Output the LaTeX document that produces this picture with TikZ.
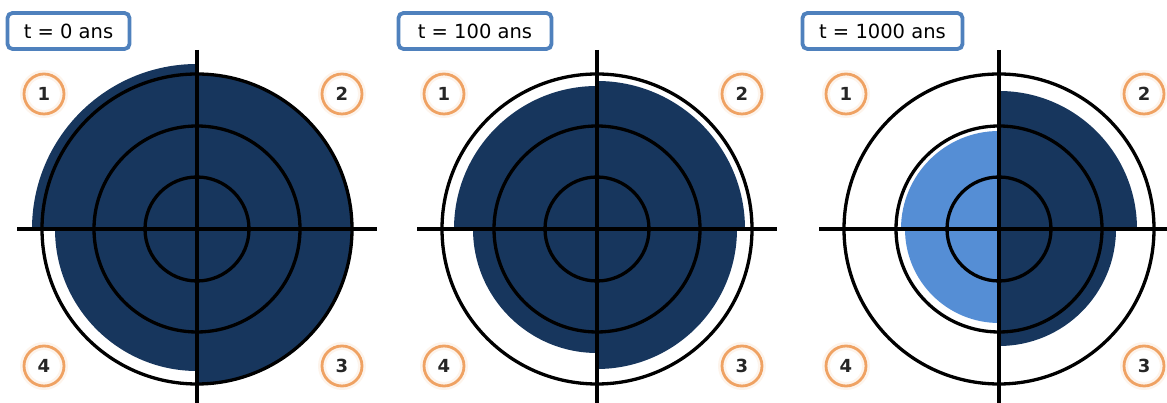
\documentclass[tikz,border=0pt]{standalone}
\usepackage{fontspec}
\setmainfont{DejaVu Sans}
\definecolor{navy}{HTML}{17365D}
\definecolor{lightblue}{HTML}{558ED5}
\definecolor{boxblue}{HTML}{4F81BD}
\definecolor{ringorange}{HTML}{EFA263}
\tikzset{
  ring/.style={draw=black,line width=3.3pt},
  cross/.style={draw=black,line width=3.3pt},
  timebox/.style={draw=boxblue,line width=3.8pt,rounded corners=5pt,fill=white,
    minimum height=36pt,inner sep=0pt,font=\fontsize{19.5}{22}\selectfont},
  numcirc/.style={circle,draw=ringorange,line width=2.8pt,minimum size=40pt,inner sep=0pt,
    font=\bfseries\fontsize{18}{20}\selectfont,text=black!85},
  halo/.style={circle,draw=ringorange!12,line width=8pt,minimum size=40pt,inner sep=0pt}
}
\newcommand\drawpanel[8]{%
  \coordinate (#2c) at (#1,174);
  \fill[#7] (#2c) -- ++(90:#3) arc[start angle=90,end angle=180,radius=#3] -- cycle;
  \fill[navy] (#2c) -- ++(0:#4) arc[start angle=0,end angle=90,radius=#4] -- cycle;
  \fill[navy] (#2c) -- ++(270:#5) arc[start angle=270,end angle=360,radius=#5] -- cycle;
  \fill[#8] (#2c) -- ++(180:#6) arc[start angle=180,end angle=270,radius=#6] -- cycle;
  \draw[ring] (#2c) circle[radius=52];
  \draw[ring] (#2c) circle[radius=103];
  \draw[ring] (#2c) circle[radius=155];
  \coordinate (#2t) at ([yshift=179pt]#2c);
  \coordinate (#2b) at ([yshift=-180pt]#2c);
  \coordinate (#2l) at ([xshift=-180pt]#2c);
  \coordinate (#2r) at ([xshift=180pt]#2c);
  \draw[cross] (#2t) -- (#2b);
  \draw[cross] (#2l) -- (#2r);
  \foreach \n/\dx/\dy in {1/-153/135,2/145/135,3/145/-137,4/-153/-137}{
    \node[halo] at ([shift={(\dx pt,\dy pt)}]#2c) {};
    \node[numcirc] (#2n\n) at ([shift={(\dx pt,\dy pt)}]#2c) {\n};
  }
}
\begin{document}
\begin{tikzpicture}[x=1pt,y=1pt]
\useasboundingbox (0,0) rectangle (1167,403);
\begin{scope}
\clip (0,0) rectangle (1167,403);
\drawpanel{197}{A}{165}{155}{155}{142}{navy}{navy}
\drawpanel{597}{B}{143}{148}{140}{124}{navy}{navy}
\drawpanel{999}{C}{98}{138}{117}{94}{lightblue}{lightblue}
\end{scope}
\node[timebox,minimum width=122pt] (labA) at (68.5,372) {t = 0 ans};
\node[timebox,minimum width=153pt] (labB) at (475,372) {t = 100 ans};
\node[timebox,minimum width=160pt] (labC) at (882.5,372) {t = 1000 ans};
\end{tikzpicture}
\end{document}
